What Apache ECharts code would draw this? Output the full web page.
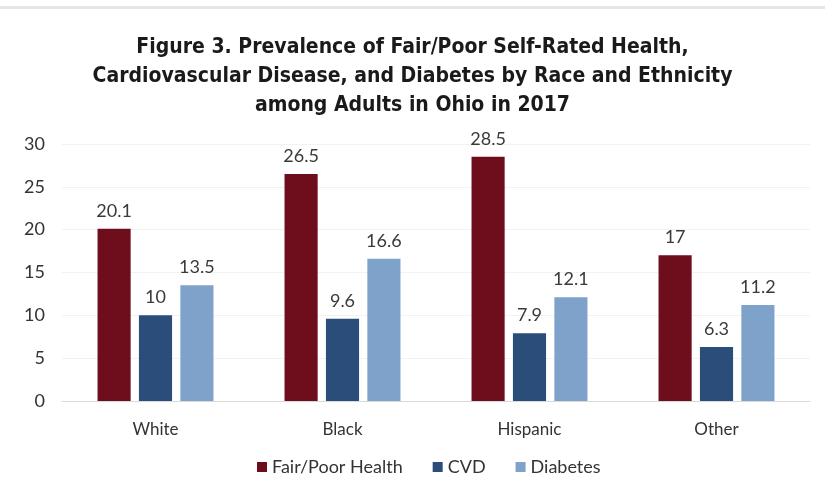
<!DOCTYPE html>
<html><head><meta charset="utf-8">
<script src="https://cdn.jsdelivr.net/npm/echarts@6/dist/echarts.min.js"></script>
<style>html,body{margin:0;padding:0;background:#fff}#c{width:825px;height:502px}</style>
</head><body><div id="c"></div>
<script>
const categories = ["White", "Black", "Hispanic", "Other"];
const fairPoorHealth = [20.1, 26.5, 28.5, 17];
const cvd = [10, 9.6, 7.9, 6.3];
const diabetes = [13.5, 16.6, 12.1, 11.2];
const seriesNames = ["Fair/Poor Health", "CVD", "Diabetes"];
const colors = ["#6E0D1C", "#2A4E79", "#7EA2CA"];

const FONT = 'Lato, "Open Sans", sans-serif';
const chart = echarts.init(document.getElementById('c'));
const lbl = {show: true, position: 'top', distance: 9, color: '#3a3a3a', fontSize: 18, fontFamily: FONT};
chart.setOption({
  animation: false,
  backgroundColor: '#fff',
  color: colors,
  title: {
    text: 'Figure 3. Prevalence of Fair/Poor Self-Rated Health,\nCardiovascular Disease, and Diabetes by Race and Ethnicity\namong Adults in Ohio in 2017',
    left: 'center', top: 28,
    textStyle: {fontSize: 21, fontWeight: 'bold', color: '#1a1a1a', lineHeight: 29, fontFamily: 'Liberation Sans Narrow, DejaVu Sans Condensed, sans-serif'}
  },
  graphic: [{type: 'rect', shape: {x: 0, y: 6, width: 825, height: 3}, style: {fill: '#e6e6e6'}}],
  legend: {
    bottom: 21, left: 252, itemWidth: 10, itemHeight: 10, itemGap: 30,
    icon: 'rect',
    textStyle: {fontSize: 18, color: '#333', fontFamily: FONT},
    data: seriesNames
  },
  grid: {left: 62, right: 15, top: 144, bottom: 101},
  xAxis: {
    type: 'category', data: categories,
    axisLine: {lineStyle: {color: '#d9d9d9'}}, axisTick: {show: false},
    axisLabel: {fontSize: 17, color: '#333', margin: 20, fontFamily: FONT}
  },
  yAxis: {
    type: 'value', min: 0, max: 30, interval: 5,
    axisLine: {show: false}, axisTick: {show: false},
    splitLine: {lineStyle: {color: '#f2f2f2'}},
    axisLabel: {fontSize: 18, color: '#333', margin: 17, fontFamily: FONT}
  },
  series: [
    {name: seriesNames[0], type: 'bar', data: fairPoorHealth, barGap: '25%', barCategoryGap: '38%', label: lbl},
    {name: seriesNames[1], type: 'bar', data: cvd, label: lbl},
    {name: seriesNames[2], type: 'bar', data: diabetes, label: lbl}
  ]
});
</script></body></html>
